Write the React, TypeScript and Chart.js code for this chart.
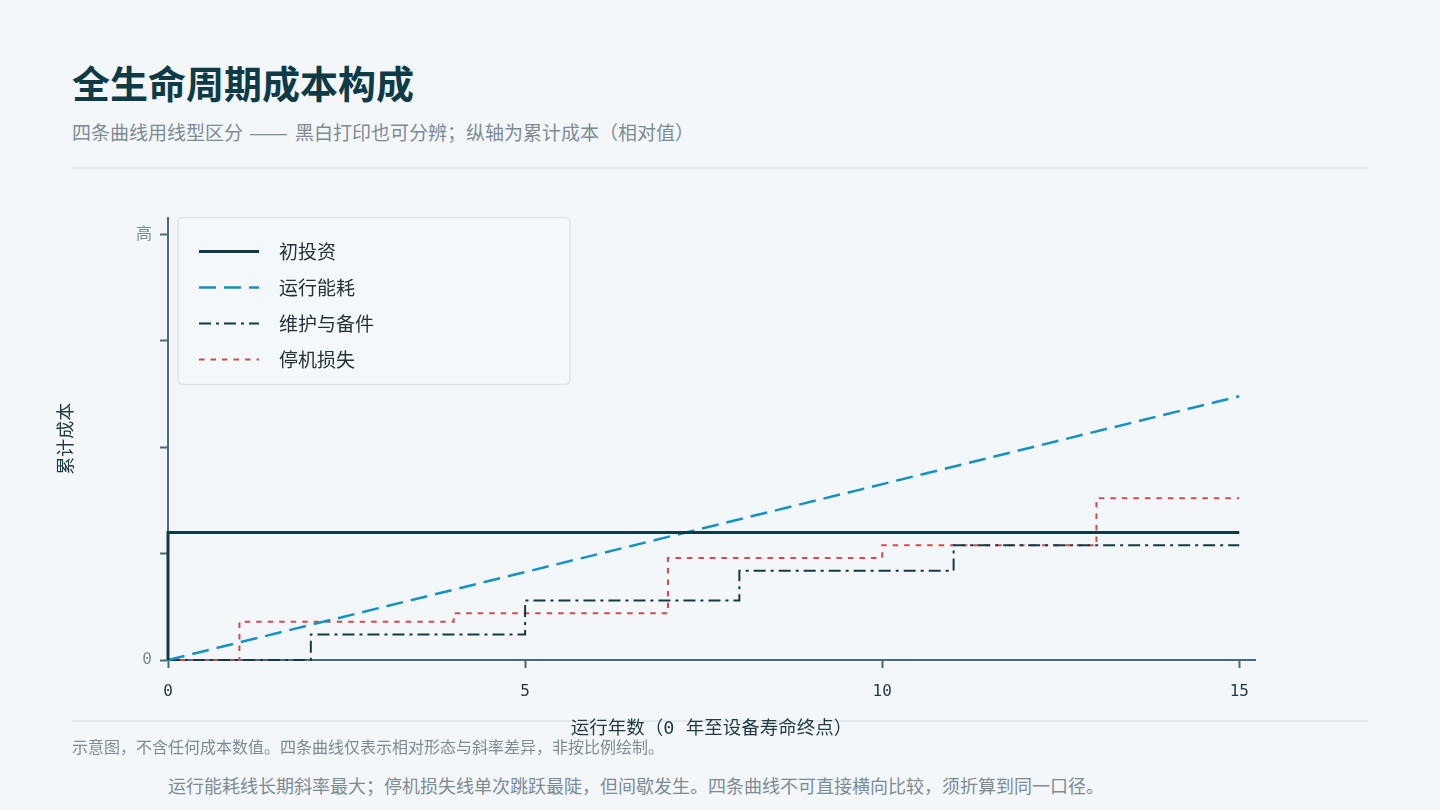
import { useEffect, useRef } from "react";
import { Chart, registerables } from "chart.js";

Chart.register(...registerables);

const seriesNames = ["初投资", "运行能耗", "维护与备件", "停机损失"];
const capexYears = [0, 0, 15];
const capexValues = [0, 0.3, 0.3];
const energyYears = [0, 15];
const energyValues = [0, 0.62];
const maintYears = [0, 2, 5, 8, 11, 15];
const maintValues = [0, 0.06, 0.14, 0.21, 0.27, 0.27];
const downtimeYears = [0, 1, 4, 7, 10, 13, 15];
const downtimeValues = [0, 0.09, 0.11, 0.24, 0.27, 0.38, 0.38];
const xTicks = [0, 5, 10, 15];
const yTicks = [0, 0.25, 0.5, 0.75, 1];
const yTickLabels = ["0", "", "", "", "高"];

const MONO = '"DejaVu Sans Mono", "Noto Sans CJK SC", monospace';
const SANS = '"Noto Sans CJK SC", "Noto Sans", sans-serif';
const AXIS = "#4b6b74";
const INK = "#0f3b47";
const MUTED = "#7d8b94";

const toPoints = (xs: number[], ys: number[]) => xs.map((x, i) => ({ x, y: ys[i] }));

// legend drawn as a framed box inside the plot, top left
const boxLegend = {
  id: "boxLegend",
  afterDatasetsDraw(chart: Chart) {
    const ctx = chart.ctx;
    const bx = chart.chartArea.left + 10;
    const by = chart.chartArea.top;
    const bw = 392;
    const bh = 167;
    ctx.save();
    ctx.beginPath();
    ctx.roundRect(bx, by, bw, bh, 5);
    ctx.fillStyle = "rgba(244,247,249,0.9)";
    ctx.fill();
    ctx.lineWidth = 1.5;
    ctx.strokeStyle = "#dfe5e9";
    ctx.stroke();
    chart.data.datasets.forEach((ds: any, i: number) => {
      const y = by + 34 + i * 36;
      ctx.beginPath();
      ctx.setLineDash(ds.borderDash || []);
      ctx.strokeStyle = ds.borderColor;
      ctx.lineWidth = ds.borderWidth;
      ctx.moveTo(bx + 21, y);
      ctx.lineTo(bx + 81, y);
      ctx.stroke();
      ctx.setLineDash([]);
      ctx.fillStyle = "#22333a";
      ctx.font = `19px ${SANS}`;
      ctx.textBaseline = "middle";
      ctx.textAlign = "left";
      ctx.fillText(ds.label, bx + 101, y);
    });
    ctx.restore();
  },
};

export default function App() {
  const canvasRef = useRef<HTMLCanvasElement>(null);
  const chartRef = useRef<Chart | null>(null);
  const dashRef = useRef<HTMLSpanElement>(null);

  // stretch the em dashes to the long rule seen in the subtitle
  useEffect(() => {
    const el = dashRef.current;
    if (!el) return;
    const w = el.getBoundingClientRect().width;
    if (w > 0) {
      el.style.transform = `scaleX(${39 / w})`;
      el.style.marginRight = `${39 - w + 7}px`;
    }
  }, []);

  useEffect(() => {
    if (!canvasRef.current) return;
    if (chartRef.current) chartRef.current.destroy();

    chartRef.current = new Chart(canvasRef.current, {
      type: "line",
      data: {
        datasets: [
          {
            label: seriesNames[0],
            data: toPoints(capexYears, capexValues),
            borderColor: INK,
            borderWidth: 3,
            borderDash: [],
          },
          {
            label: seriesNames[1],
            data: toPoints(energyYears, energyValues),
            borderColor: "#1592bf",
            borderWidth: 2.5,
            borderDash: [17, 8],
          },
          {
            label: seriesNames[2],
            data: toPoints(maintYears, maintValues),
            borderColor: "#163a44",
            borderWidth: 2,
            borderDash: [12, 5, 3, 5],
            stepped: "before",
          },
          {
            label: seriesNames[3],
            data: toPoints(downtimeYears, downtimeValues),
            borderColor: "#d04b4d",
            borderWidth: 2,
            borderDash: [5.5, 6],
            stepped: "before",
          },
        ] as any,
      },
      options: {
        animation: false,
        responsive: true,
        maintainAspectRatio: false,
        layout: { padding: { top: 16, right: 25, left: 0, bottom: 0 } },
        elements: { point: { radius: 0, hoverRadius: 0 }, line: { tension: 0 } },
        datasets: { line: { clip: 8 } as any },
        plugins: { legend: { display: false }, tooltip: { enabled: false } },
        scales: {
          x: {
            type: "linear",
            min: 0,
            max: 15.22,
            afterBuildTicks: (scale: any) => {
              scale.ticks = xTicks.map((value) => ({ value }));
            },
            afterFit: (scale: any) => {
              scale.height = 80;
            },
            ticks: {
              color: "#1e3a44",
              font: { family: MONO, size: 16 },
              padding: 14,
              maxRotation: 0,
              autoSkip: false,
            },
            grid: {
              display: true,
              drawOnChartArea: false,
              drawTicks: true,
              tickLength: 8,
              tickColor: AXIS,
              tickWidth: 2,
            },
            border: { display: true, color: AXIS, width: 2 },
            title: {
              display: true,
              text: "运行年数（0 年至设备寿命终点）",
              color: "#1e3a44",
              font: { family: MONO, size: 18.5 },
              padding: { top: 0, bottom: 0 },
            },
          },
          y: {
            type: "linear",
            min: 0,
            max: 1.04,
            afterBuildTicks: (scale: any) => {
              scale.ticks = yTicks.map((value) => ({ value }));
            },
            afterFit: (scale: any) => {
              scale.width = 128;
            },
            ticks: {
              color: MUTED,
              font: { family: MONO, size: 16 },
              padding: 8,
              callback: (value: any) => yTickLabels[yTicks.indexOf(Number(value))] ?? "",
            },
            grid: {
              display: true,
              drawOnChartArea: false,
              drawTicks: true,
              tickLength: 8,
              tickColor: AXIS,
              tickWidth: 2,
            },
            border: { display: true, color: AXIS, width: 2 },
            title: {
              display: true,
              text: "累计成本",
              color: "#1e3a44",
              font: { family: SANS, size: 18 },
              padding: { top: 14, bottom: 0 },
            },
          },
        },
      },
      plugins: [boxLegend],
    });

    return () => {
      if (chartRef.current) {
        chartRef.current.destroy();
        chartRef.current = null;
      }
    };
  }, []);

  return (
    <div
      style={{
        position: "absolute",
        left: 0,
        top: 0,
        width: 1440,
        height: 810,
        background: "#f3f7f9",
        fontFamily: SANS,
        overflow: "hidden",
      }}
    >
      <div
        style={{
          position: "absolute",
          left: 72,
          top: 60,
          fontSize: 38,
          lineHeight: "44px",
          fontWeight: 700,
          color: INK,
          whiteSpace: "nowrap",
        }}
      >
        全生命周期成本构成
      </div>
      <div
        style={{
          position: "absolute",
          left: 72,
          top: 120,
          fontSize: 19,
          lineHeight: "24px",
          color: MUTED,
          whiteSpace: "nowrap",
        }}
      >
        四条曲线用线型区分
        <span
          ref={dashRef}
          style={{ display: "inline-block", marginLeft: 6, transformOrigin: "left center" }}
        >
          ——
        </span>
        黑白打印也可分辨；纵轴为累计成本（相对值）
      </div>
      <div style={{ position: "absolute", left: 72, top: 167, width: 1296, height: 2, background: "#e2e8eb" }} />
      <div style={{ position: "absolute", left: 72, top: 720, width: 1296, height: 2, background: "#e2e8eb" }} />
      <div style={{ position: "absolute", left: 40, top: 200, width: 1240, height: 540 }}>
        <canvas ref={canvasRef}></canvas>
      </div>
      <div
        style={{
          position: "absolute",
          left: 72,
          top: 735,
          fontSize: 16,
          lineHeight: "22px",
          color: MUTED,
          whiteSpace: "nowrap",
        }}
      >
        示意图，不含任何成本数值。四条曲线仅表示相对形态与斜率差异，非按比例绘制。
      </div>
      <div
        style={{
          position: "absolute",
          left: 168,
          top: 773,
          fontSize: 18,
          lineHeight: "24px",
          color: MUTED,
          whiteSpace: "nowrap",
        }}
      >
        运行能耗线长期斜率最大；停机损失线单次跳跃最陡，但间歇发生。四条曲线不可直接横向比较，须折算到同一口径。
      </div>
    </div>
  );
}
